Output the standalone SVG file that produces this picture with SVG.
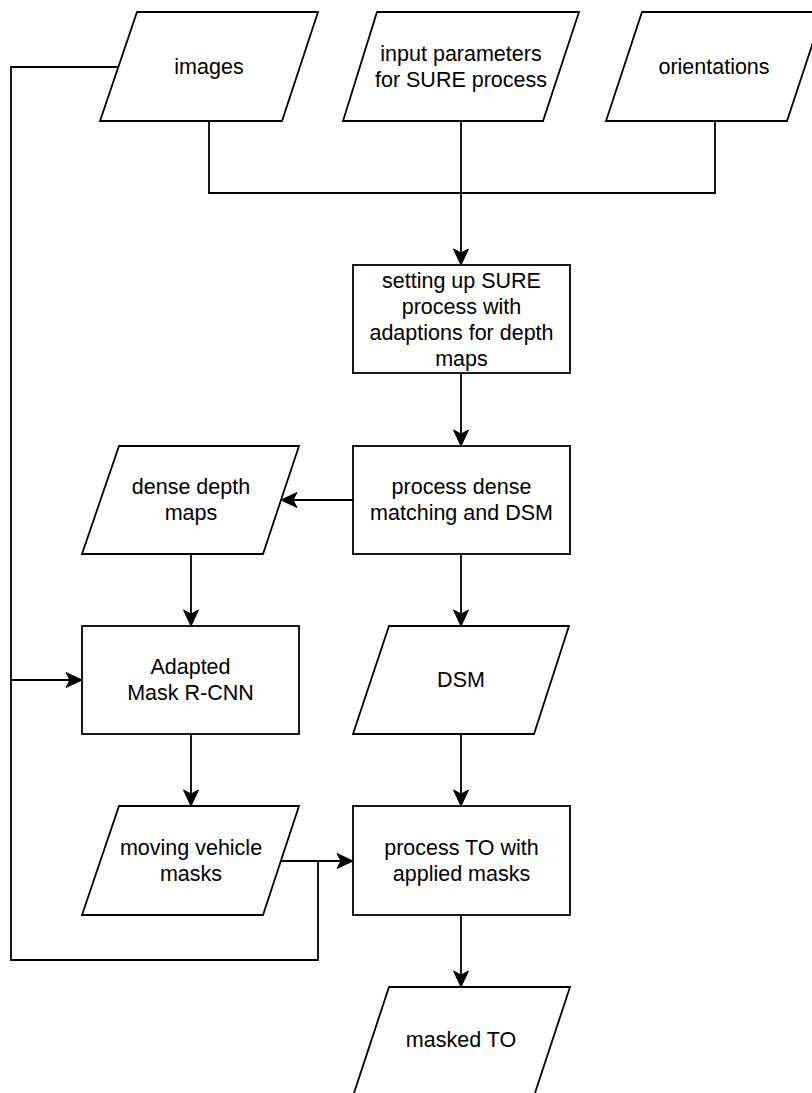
<svg xmlns="http://www.w3.org/2000/svg" width="812" height="1093" viewBox="0 0 812 1093">
<style>
.shape{fill:#fff;stroke:#000;stroke-width:1.8}
.edge{fill:none;stroke:#000;stroke-width:1.8}
text{font-family:"Liberation Sans",Arial,sans-serif;font-size:21.5px;fill:#000;text-anchor:middle;dominant-baseline:central}
</style>
<defs>
<marker id="arrow" viewBox="-9 -9 18 18" refX="0" refY="0" markerWidth="18" markerHeight="18" markerUnits="userSpaceOnUse" orient="auto">
<path d="M8,0 L-8,-7.5 L-4,0 L-8,7.5 Z" fill="#000" stroke="#000" stroke-width="1"/>
</marker>
</defs>
<rect width="812" height="1093" fill="#fff"/>
<g id="connectors">
<path class="edge" d="M209,121 V193 H461"/>
<path class="edge" d="M715,121 V193 H461"/>
<path class="edge" d="M461,121 V257" marker-end="url(#arrow)"/>
<path class="edge" d="M461,373 V438" marker-end="url(#arrow)"/>
<path class="edge" d="M353,500 H289" marker-end="url(#arrow)"/>
<path class="edge" d="M191,554 V618" marker-end="url(#arrow)"/>
<path class="edge" d="M461,554 V618" marker-end="url(#arrow)"/>
<path class="edge" d="M118,67 H11 V960 H318 V861"/>
<path class="edge" d="M11,680 H74" marker-end="url(#arrow)"/>
<path class="edge" d="M191,734 V798" marker-end="url(#arrow)"/>
<path class="edge" d="M461,734 V798" marker-end="url(#arrow)"/>
<path class="edge" d="M281,861 H345" marker-end="url(#arrow)"/>
<path class="edge" d="M461,915 V979" marker-end="url(#arrow)"/>
</g>
<g id="images">
<polygon class="shape" points="137,12 318,12 282,121 100,121"/>
<text x="209" y="67">images</text>
</g>
<g id="input-parameters">
<polygon class="shape" points="377,12 579,12 543,121 343,121"/>
<text x="461" y="54">input parameters</text>
<text x="461" y="80">for SURE process</text>
</g>
<g id="orientations">
<polygon class="shape" points="642,12 823,12 787,121 606,121"/>
<text x="714" y="67">orientations</text>
</g>
<g id="setting-up-sure">
<rect class="shape" x="353" y="265" width="217" height="108"/>
<text x="461.5" y="281">setting up SURE</text>
<text x="461.5" y="307">process with</text>
<text x="461.5" y="333">adaptions for depth</text>
<text x="461.5" y="359">maps</text>
</g>
<g id="process-dense-matching">
<rect class="shape" x="353" y="446" width="217" height="108"/>
<text x="461.5" y="487">process dense</text>
<text x="461.5" y="513">matching and DSM</text>
</g>
<g id="dense-depth-maps">
<polygon class="shape" points="119,446 299,446 263,554 82,554"/>
<text x="191" y="487">dense depth</text>
<text x="191" y="513">maps</text>
</g>
<g id="adapted-mask-rcnn">
<rect class="shape" x="82" y="626" width="217" height="108"/>
<text x="190.5" y="667">Adapted</text>
<text x="190.5" y="693">Mask R-CNN</text>
</g>
<g id="dsm">
<polygon class="shape" points="389,626 569,626 534,734 353,734"/>
<text x="461" y="680">DSM</text>
</g>
<g id="moving-vehicle-masks">
<polygon class="shape" points="119,806 299,806 263,915 82,915"/>
<text x="191" y="848">moving vehicle</text>
<text x="191" y="874">masks</text>
</g>
<g id="process-to">
<rect class="shape" x="353" y="806" width="217" height="109"/>
<text x="461.5" y="848">process TO with</text>
<text x="461.5" y="874">applied masks</text>
</g>
<g id="masked-to">
<polygon class="shape" points="389,987 570,987 534,1096 353,1096"/>
<text x="461" y="1040">masked TO</text>
</g>
</svg>
